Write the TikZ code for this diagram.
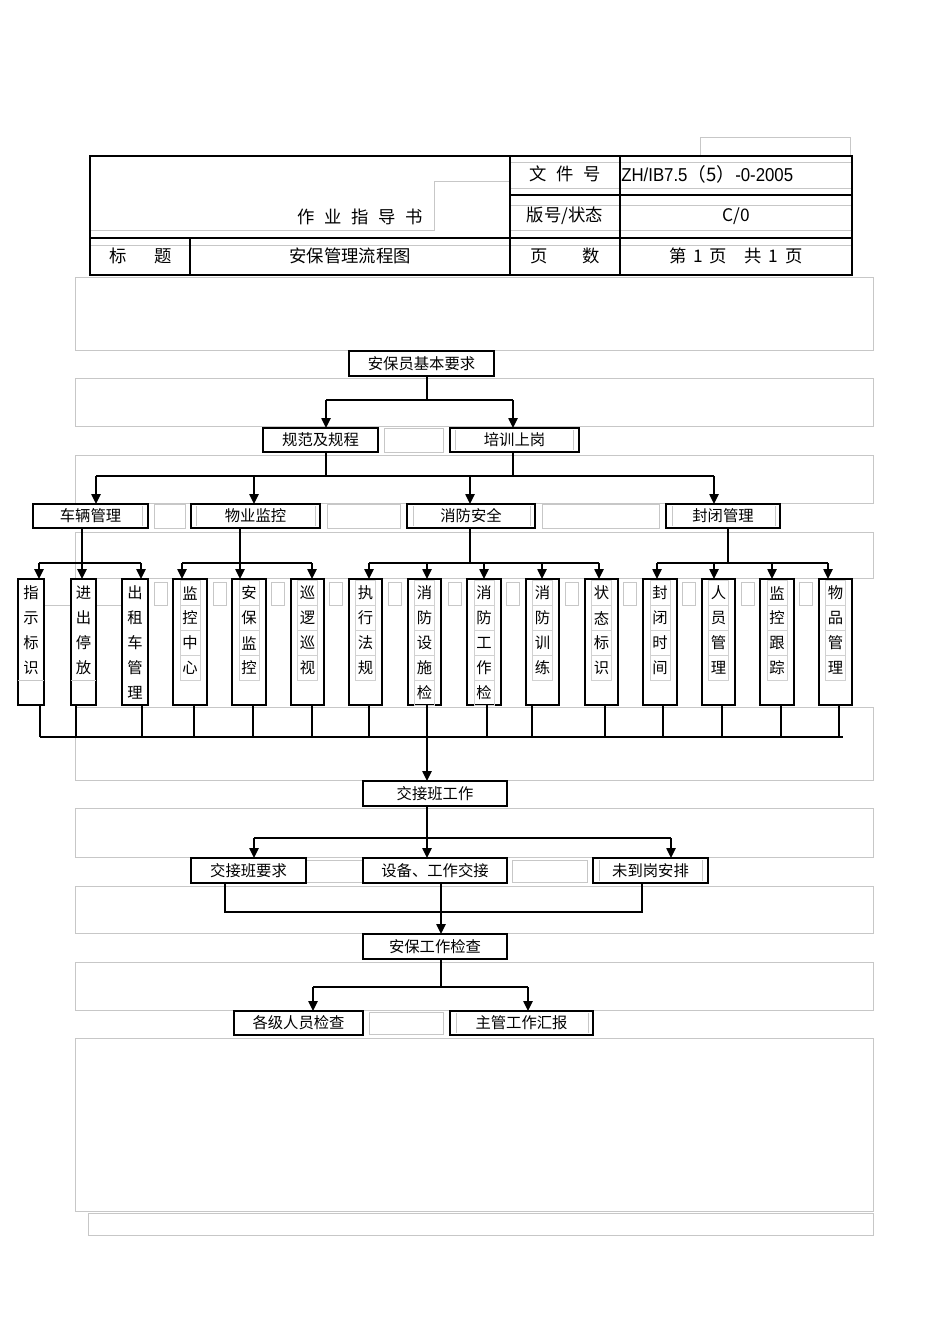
\documentclass[tikz,border=0pt]{standalone}
\usepackage{fontspec}
\setmainfont{Noto Sans CJK SC}
\newfontfamily\latinnarrow[FakeStretch=0.9]{Liberation Sans}
\usetikzlibrary{arrows.meta,calc}
\newcommand\mybox[6]{\node[box,minimum width={(#3-#1)*0.75pt},minimum height={(#4-#2)*0.75pt}] (#5) at ({(#1+#3)/2},{(#2+#4)/2}) {#6};}
\newcommand\graybox[4]{\draw[gbox] (#1,#2) rectangle (#3,#4);}
\newcommand\gap{\hspace{0.55em}}
\begin{document}
\begin{tikzpicture}[x=0.75pt,y=-0.75pt,
  box/.style={draw,line width=1pt,fill=white,inner sep=0pt,outer sep=0pt,font=\fontsize{11.5}{12}\selectfont},
  gbox/.style={draw=black!22,line width=0.6pt},
  gline/.style={draw=black!22,line width=0.6pt},
  hline/.style={line width=1pt},
  conn/.style={line width=1.1pt},
  arr/.style={line width=1.1pt,-{Triangle[length=7.5pt,width=7pt]}},
  hdr/.style={font=\fontsize{13}{13}\selectfont,inner sep=0pt},
  vch/.style={font=\fontsize{11.5}{12}\selectfont,inner sep=0pt,minimum width=15pt,minimum height=18.75pt,line width=0.4pt},
]
\useasboundingbox (0,0) rectangle (950,1344);
\fill[white] (0,0) rectangle (950,1344);

% ---------------- header table ----------------
\graybox{700}{137}{850}{156}
\draw[gline] (510,162) -- (852,162);
\draw[gline] (510,188) -- (852,188);
\draw[gline] (510,205) -- (852,205);
\draw[gline] (90,230) -- (434,230) -- (434,181) -- (510,181);
\draw[gline] (510,230) -- (852,230);
\draw[gline] (90,245) -- (852,245);
\draw[hline] (90,156) rectangle (852,275);
\draw[hline] (510,195) -- (852,195);
\draw[hline] (90,238) -- (852,238);
\draw[hline] (510,156) -- (510,275);
\draw[hline] (620,156) -- (620,275);
\draw[hline] (190,238) -- (190,275);

\node[hdr] (h1) at (360,217) {作\gap 业\gap 指\gap 导\gap 书};
\node[hdr] (h2) at (565,174) {文\gap 件\gap 号};
\node[hdr,anchor=west,font=\fontsize{14}{14}\selectfont] (h3) at (621,174) {\latinnarrow ZH/IB7.5{\fontspec{Noto Sans CJK SC}（5）}-0-2005};
\node[hdr] (h4) at (565,216) {版号/状态};
\node[hdr] (h5) at (736,216) {C/0};
\node[hdr] (h6) at (141,256) {标\hspace{1.6em}题};
\node[hdr] (h7) at (350,256) {安保管理流程图};
\node[hdr] (h8) at (565,256) {页\hspace{2em}数};
\node[hdr] (h9) at (736,256) {第\hspace{0.4em}1\hspace{0.4em}页\hspace{1em}共\hspace{0.4em}1\hspace{0.4em}页};

% ---------------- gray background frames ----------------
\graybox{75}{277}{873}{350}
\graybox{75}{378}{873}{426}
\graybox{75}{455}{873}{503}
\graybox{75}{532}{873}{578}
\graybox{75}{707}{873}{780}
\graybox{75}{808}{873}{857}
\graybox{75}{886}{873}{933}
\graybox{75}{962}{873}{1010}
\graybox{75}{1038}{873}{1211}
\graybox{88}{1213}{873}{1235}

% ---------------- level 1/2 ----------------
\mybox{349}{351}{494}{376}{A}{安保员基本要求}
\graybox{384}{428}{443}{452}
\mybox{263}{428}{378}{452}{B1}{规范及规程}
\mybox{450}{428}{579}{452}{B2}{培训上岗}
\draw[gline] (455,430) -- (455,450); \draw[gline] (573,430) -- (573,450);

\coordinate (a0) at (427,400);
\coordinate (a1) at (326,400);
\coordinate (a2) at (513,400);
\draw[conn] (a0 |- A.south) -- (a0);
\draw[conn] (a1) -- (a2);
\draw[arr] (a1) -- (a1 |- B1.north);
\draw[arr] (a2) -- (a2 |- B2.north);

% ---------------- level 3 ----------------
\graybox{154}{504}{185}{528}
\graybox{327}{504}{400}{528}
\graybox{542}{504}{659}{528}
\mybox{33}{504}{148}{528}{C1}{车辆管理}
\mybox{191}{504}{320}{528}{C2}{物业监控}
\mybox{407}{504}{535}{528}{C3}{消防安全}
\mybox{666}{504}{780}{528}{C4}{封闭管理}
\draw[gline] (142,506) -- (142,526);
\draw[gline] (196,506) -- (196,526); \draw[gline] (315,506) -- (315,526);
\draw[gline] (413,506) -- (413,526); \draw[gline] (530,506) -- (530,526);
\draw[gline] (672,506) -- (672,526); \draw[gline] (775,506) -- (775,526);

\coordinate (b1) at (326,476);
\coordinate (b2) at (513,476);
\coordinate (bl) at (96,476);
\coordinate (bm1) at (254,476);
\coordinate (bm2) at (470,476);
\coordinate (br) at (714,476);
\draw[conn] (b1 |- B1.south) -- (b1);
\draw[conn] (b2 |- B2.south) -- (b2);
\draw[conn] (bl) -- (br);
\draw[arr] (bl) -- (bl |- C1.north);
\draw[arr] (bm1) -- (bm1 |- C2.north);
\draw[arr] (bm2) -- (bm2 |- C3.north);
\draw[arr] (br) -- (br |- C4.north);

% ---------------- level 4 (vertical boxes) ----------------
\foreach \x in {154,213,271,329,388,448,506,565,623,682,741,799}
  \draw[gbox] (\x,582) rectangle (\x+13.5,605);
\draw[gline] (44,605) -- (71,605);
\draw[gline] (96,605) -- (122,605);

\foreach \n/\a/\b/\t/\ax/\dx/\cl in {
 d1/18/44/{指,示,标,识}/39/40/none,
 d2/71/96/{进,出,停,放}/82/76/none,
 d3/122/148/{出,租,车,管,理}/141/142/none,
 d4/173/207/{监,控,中,心}/182/194/black!18,
 d5/232/266/{安,保,监,控}/240/253/black!18,
 d6/291/324/{巡,逻,巡,视}/312/312/black!18,
 d7/349/382/{执,行,法,规}/369/369/black!18,
 d8/408/441/{消,防,设,施,检}/427/427/black!18,
 d9/467/501/{消,防,工,作,检}/484/487/black!18,
 d10/526/559/{消,防,训,练}/542/532/black!18,
 d11/585/618/{状,态,标,识}/599/605/black!18,
 d12/643/677/{封,闭,时,间}/657/663/black!18,
 d13/702/735/{人,员,管,理}/714/722/black!18,
 d14/760/794/{监,控,跟,踪}/772/781/black!18,
 d15/819/852/{物,品,管,理}/828/839/black!18}
{
  \node[box,minimum width={(\b-\a)*0.75pt},minimum height={126*0.75pt}] (\n) at ({(\a+\b)/2},642) {};
  \foreach \c [count=\i] in \t
    \node[vch,draw=\cl] (\n-\i) at ({(\a+\b)/2},{593+25*(\i-1)}) {\c};
  \coordinate (t\n) at (\ax,563);
  \coordinate (u\n) at (\dx,737);
  \draw[arr] (t\n) -- (t\n |- \n.north);
  \draw[conn] (u\n |- \n.south) -- (u\n);
}
\draw[gline] (18,680) -- (44,680);
\draw[gline] (71,680) -- (96,680);

\coordinate (c1) at (82,563);
\coordinate (c2) at (240,563);
\coordinate (c3) at (470,563);
\coordinate (c4) at (728,563);
\draw[conn] (c1 |- C1.south) -- (c1);
\draw[conn] (c2 |- C2.south) -- (c2);
\draw[conn] (c3 |- C3.south) -- (c3);
\draw[conn] (c4 |- C4.south) -- (c4);
\draw[conn] (td1) -- (td3);
\draw[conn] (td4) -- (td6);
\draw[conn] (td7) -- (td11);
\draw[conn] (td12) -- (td15);
\coordinate (busend) at (843,737);
\draw[conn] (ud1) -- (busend);

% ---------------- hand-over ----------------
\mybox{363}{781}{507}{806}{E}{交接班工作}
\draw[arr] (ud8) -- (ud8 |- E.north);

\graybox{306}{860}{363}{882}
\graybox{512}{860}{587}{882}
\mybox{191}{858}{306}{883}{F1}{交接班要求}
\mybox{363}{858}{507}{883}{F2}{设备、工作交接}
\mybox{593}{858}{708}{883}{F3}{未到岗安排}
\draw[gline] (599,860) -- (599,881); \draw[gline] (702,860) -- (702,881);

\coordinate (e0) at (427,838);
\coordinate (e1) at (254,838);
\coordinate (e2) at (671,838);
\draw[arr] (e0 |- E.south) -- (e0 |- F2.north);
\draw[conn] (e1) -- (e2);
\draw[arr] (e1) -- (e1 |- F1.north);
\draw[arr] (e2) -- (e2 |- F3.north);

\mybox{363}{934}{507}{959}{G}{安保工作检查}
\coordinate (f1) at (225,912);
\coordinate (f2) at (441,912);
\coordinate (f3) at (642,912);
\draw[conn] (f1 |- F1.south) -- (f1) -- (f3) -- (f3 |- F3.south);
\draw[arr] (f2 |- F2.south) -- (f2 |- G.north);

% ---------------- inspection ----------------
\graybox{369}{1012}{443}{1034}
\mybox{234}{1011}{363}{1035}{H1}{各级人员检查}
\mybox{450}{1011}{593}{1035}{H2}{主管工作汇报}
\draw[gline] (456,1013) -- (456,1033); \draw[gline] (588,1013) -- (588,1033);

\coordinate (g0) at (441,987);
\coordinate (g1) at (313,987);
\coordinate (g2) at (528,987);
\draw[conn] (g0 |- G.south) -- (g0);
\draw[conn] (g1) -- (g2);
\draw[arr] (g1) -- (g1 |- H1.north);
\draw[arr] (g2) -- (g2 |- H2.north);
\end{tikzpicture}
\end{document}
